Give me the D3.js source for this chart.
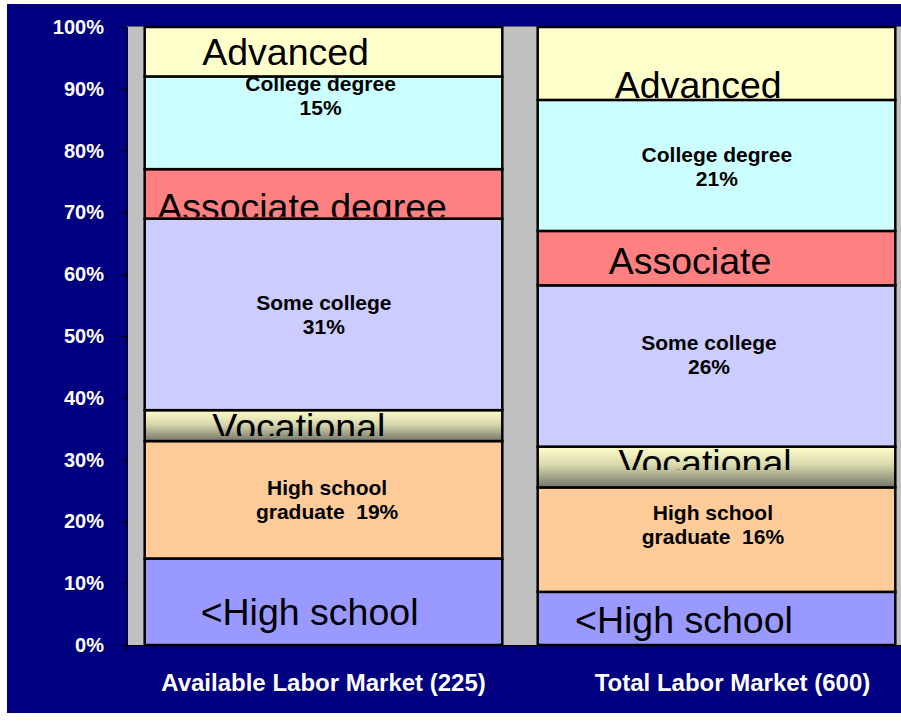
<!DOCTYPE html>
<html lang="en">
<head>
<meta charset="UTF-8">
<title>Education level: available vs total labor market</title>
<style>
  html, body { margin: 0; padding: 0; background: #fff; }
  svg { display: block; }
  text { font-family: "Liberation Sans", Arial, sans-serif; }
</style>
</head>
<body>
<svg id="chart" width="901" height="723"></svg>
<script src="https://cdnjs.cloudflare.com/ajax/libs/d3/7.8.5/d3.min.js"></script>
<script>
// categories and stacked shares (percent), bottom to top
const categories = ['Available Labor Market (225)', 'Total Labor Market (600)'];
const levels = ['<High school', 'High school graduate', 'Vocational', 'Some college', 'Associate degree', 'College degree', 'Advanced'];
const availableShares = [14, 19, 5, 31, 8, 15, 8];
const totalShares = [8.6, 16.9, 6.6, 26.1, 8.8, 21.2, 11.8];
const yTicks = [0, 10, 20, 30, 40, 50, 60, 70, 80, 90, 100];

// text written on each segment
const availableLabels = [['<High school'], ['High school', 'graduate  19%'], ['Vocational'], ['Some college', '31%'], ['Associate degree'], ['College degree', '15%'], ['Advanced']];
const totalLabels = [['<High school'], ['High school', 'graduate  16%'], ['Vocational'], ['Some college', '26%'], ['Associate'], ['College degree', '21%'], ['Advanced']];
// where the first line of each label sits (percent level) and across the bar (0..1)
const availableLabelAt = [3.2, 24.2, 33.1, 54.2, 68.7, 89.7, 93.85];
const totalLabelAt = [1.9, 20.3, 27.3, 47.7, 60.1, 78.2, 88.5];
const availableLabelX = [0.461, 0.51, 0.431, 0.501, 0.44, 0.492, 0.394];
const totalLabelX = [0.409, 0.49, 0.468, 0.479, 0.426, 0.501, 0.449];
// the big text boxes cut their text off here (percent level), null = segment bottom
const availableCut = [null, null, 33.8, null, 69.3, null, null];
const totalCut = [null, null, 28.3, null, null, null, null];

const colors = ['#9999ff', '#ffcc99', 'url(#voc)', '#ccccff', '#ff8080', '#ccffff', '#ffffcc'];
const bigText = [true, false, true, false, true, false, true];

const svg = d3.select('#chart');

// navy backdrop
svg.append('rect').attr('x', 7).attr('y', 4).attr('width', 894).attr('height', 709).attr('fill', '#000080');

const defs = svg.append('defs');
const grad = defs.append('linearGradient').attr('id', 'voc')
  .attr('x1', 0).attr('y1', 0).attr('x2', 0).attr('y2', 1);
grad.append('stop').attr('offset', '0%').attr('stop-color', '#ffffcc');
grad.append('stop').attr('offset', '45%').attr('stop-color', '#d8d8ac');
grad.append('stop').attr('offset', '100%').attr('stop-color', '#75756a');

const x = d3.scaleBand().domain(categories).range([127, 913]).paddingInner(0.09).paddingOuter(0.045);
const y = d3.scaleLinear().domain([0, 100]).range([645, 27]);

// plot area
svg.append('rect').attr('x', 127).attr('y', y(100)).attr('width', 913 - 127).attr('height', y(0) - y(100))
  .attr('fill', '#c0c0c0');
svg.append('line').attr('x1', 127).attr('x2', 901).attr('y1', y(100) - 0.5).attr('y2', y(100) - 0.5)
  .attr('stroke', '#606060').attr('stroke-width', 1);

const bars = [
  { cat: categories[0], shares: availableShares, labels: availableLabels, at: availableLabelAt, lx: availableLabelX, cut: availableCut },
  { cat: categories[1], shares: totalShares, labels: totalLabels, at: totalLabelAt, lx: totalLabelX, cut: totalCut }
];

bars.forEach((b, bi) => {
  const stack = d3.cumsum(b.shares);
  const segs = b.shares.map((v, i) => ({ i, y0: stack[i] - v, y1: stack[i] }));
  const g = svg.append('g');
  const x0 = x(b.cat), w = x.bandwidth();

  g.selectAll('rect.seg').data(segs).join('rect')
    .attr('class', 'seg')
    .attr('x', x0).attr('width', w)
    .attr('y', d => y(d.y1)).attr('height', d => y(d.y0) - y(d.y1))
    .attr('fill', d => colors[d.i])
    .attr('stroke', '#000').attr('stroke-width', 2.5);

  segs.forEach(d => {
    const big = bigText[d.i];
    const cx = x0 + w * b.lx[d.i];
    const by = y(b.at[d.i]);
    const clipId = `clip${bi}_${d.i}`;
    const bottom = b.cut[d.i] != null ? y(b.cut[d.i]) : y(d.y0) - 1.5;
    defs.append('clipPath').attr('id', clipId).append('rect')
      .attr('x', x0 + 1.5).attr('width', w - 3)
      .attr('y', y(d.y1) + 1.5).attr('height', bottom - y(d.y1) - 1.5);
    const t = g.append('text')
      .attr('clip-path', `url(#${clipId})`)
      .attr('text-anchor', 'middle')
      .attr('fill', '#000')
      .attr('font-size', big ? 37.5 : 21)
      .attr('font-weight', big ? 'normal' : 'bold')
      .style('white-space', 'pre');
    b.labels[d.i].forEach((line, li) => {
      t.append('tspan').attr('x', cx).attr('y', by + li * 24).text(line);
    });
  });
});

// y axis
const yAxis = svg.append('g').attr('transform', 'translate(127,0)')
  .call(d3.axisLeft(y).tickValues(yTicks).tickSize(6).tickPadding(17).tickFormat(d => d + '%'));
yAxis.select('.domain').attr('stroke', '#000');
yAxis.selectAll('.tick line').attr('stroke', '#000');
yAxis.selectAll('.tick text')
  .attr('fill', '#fff').attr('font-size', 20).attr('font-weight', 'bold')
  .attr('font-family', '"Liberation Sans", Arial, sans-serif');

// x axis: line plus ticks at category boundaries
svg.append('line').attr('x1', 127).attr('x2', 901).attr('y1', y(0) + 0.5).attr('y2', y(0) + 0.5)
  .attr('stroke', '#000');
const bounds = d3.range(categories.length + 1).map(i => x.range()[0] + i * x.step());
svg.selectAll('line.xtick').data(bounds).join('line')
  .attr('class', 'xtick')
  .attr('x1', d => d).attr('x2', d => d)
  .attr('y1', y(0)).attr('y2', y(0) + 7)
  .attr('stroke', '#000');

const catNudge = [0, 16];
svg.selectAll('text.cat').data(categories).join('text')
  .attr('class', 'cat')
  .attr('x', (d, i) => x(d) + x.bandwidth() / 2 + catNudge[i])
  .attr('y', 691)
  .attr('text-anchor', 'middle')
  .attr('fill', '#fff').attr('font-size', 24).attr('font-weight', 'bold')
  .text(d => d);
</script>
</body>
</html>
